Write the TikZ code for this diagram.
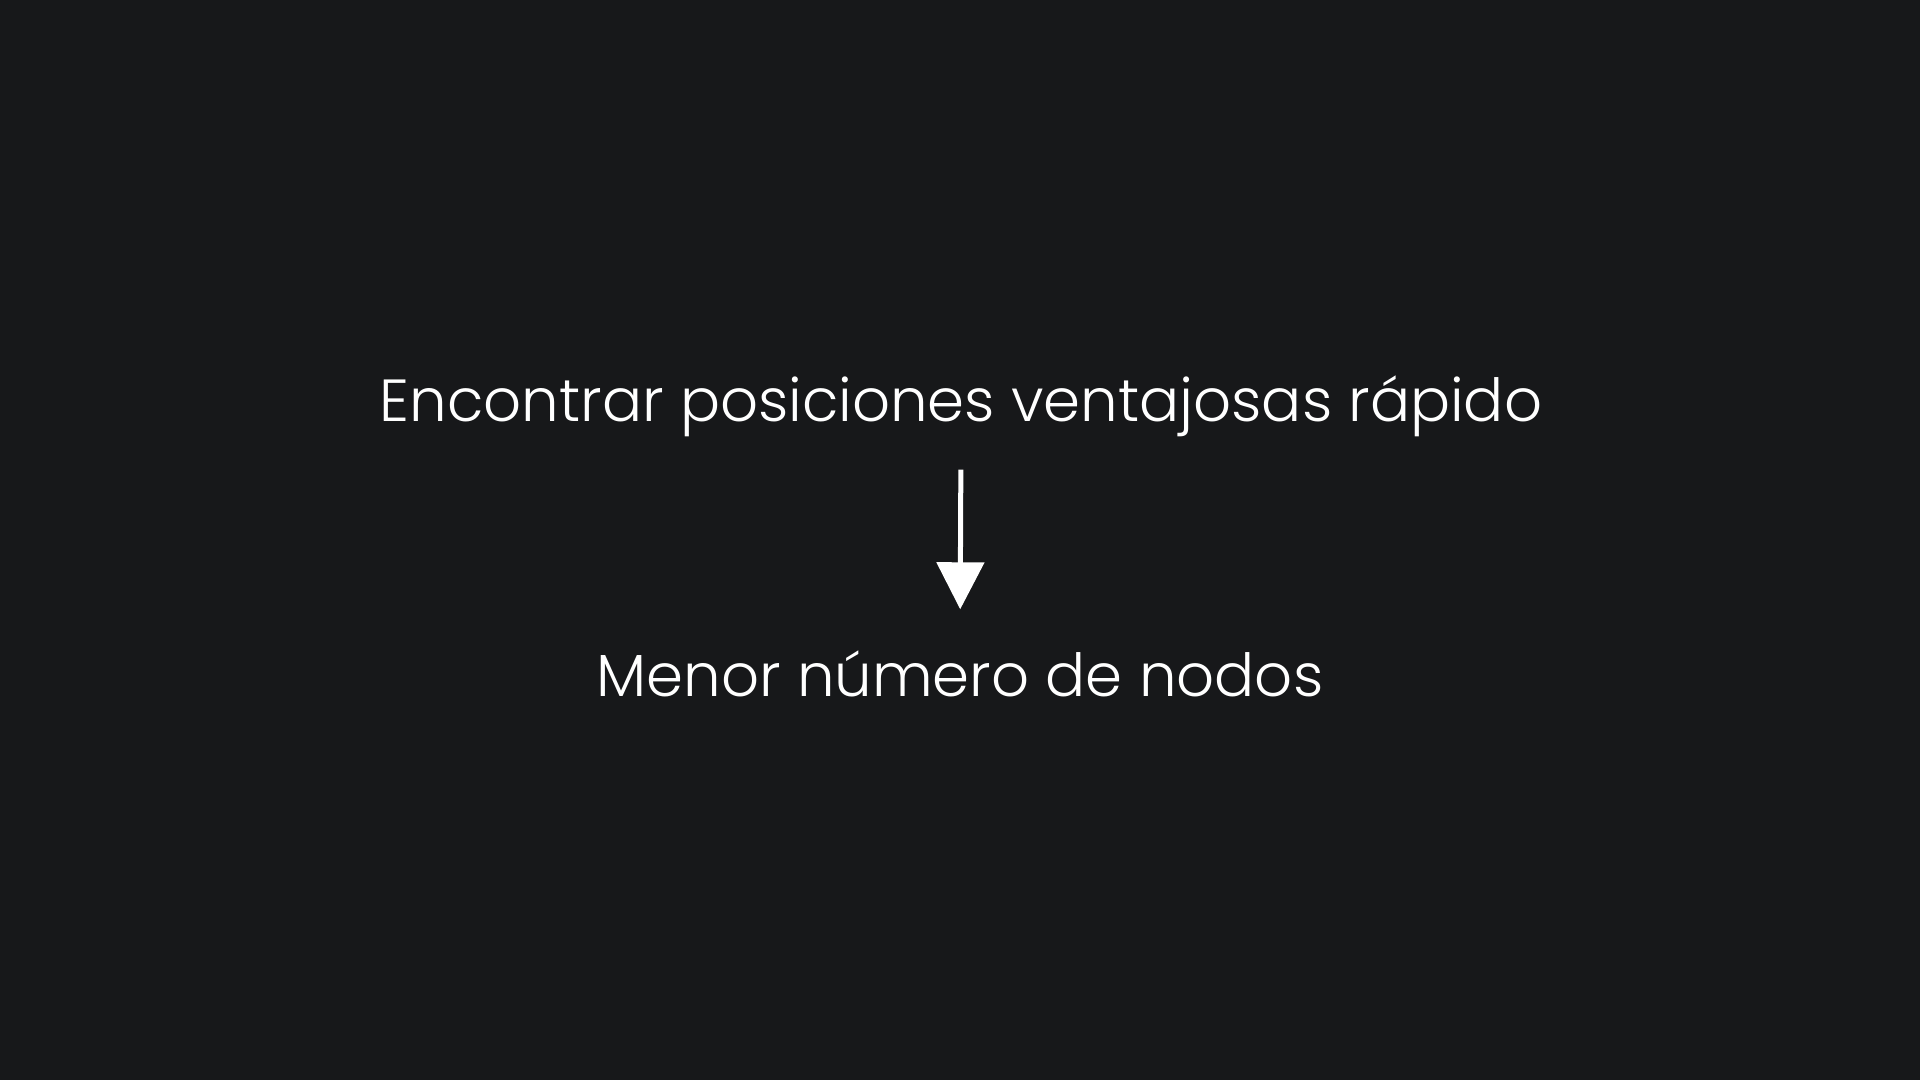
\documentclass[tikz,border=0pt]{standalone}
\usepackage{fontspec}
\setmainfont{Poppins}[UprightFont={* Light}]
\usetikzlibrary{arrows.meta}
\definecolor{fondo}{RGB}{23,24,26}
\tikzset{
    texto/.style={text=white, inner sep=0pt, anchor=base, text height=4.5mm, text depth=1.3mm,
                  font=\fontsize{16.9pt}{22pt}\selectfont},
    flecha/.style={draw=white, line width=0.5mm, -{Triangle[length=4.7mm, width=4.7mm]}}
}
\begin{document}
\begin{tikzpicture}
    \fill[fondo] (0,0) rectangle (19.2,10.8);
    \useasboundingbox (0,0) rectangle (19.2,10.8);

    \node[texto] (ventaja) at (9.61, 6.58) {Encontrar posiciones ventajosas rápido};
    \node[texto] (nodos) at (9.60, 3.83) {Menor número de nodos};

    \draw[flecha, shorten <=3.4mm, shorten >=4.2mm] (ventaja.south) -- (nodos.north);
\end{tikzpicture}
\end{document}
